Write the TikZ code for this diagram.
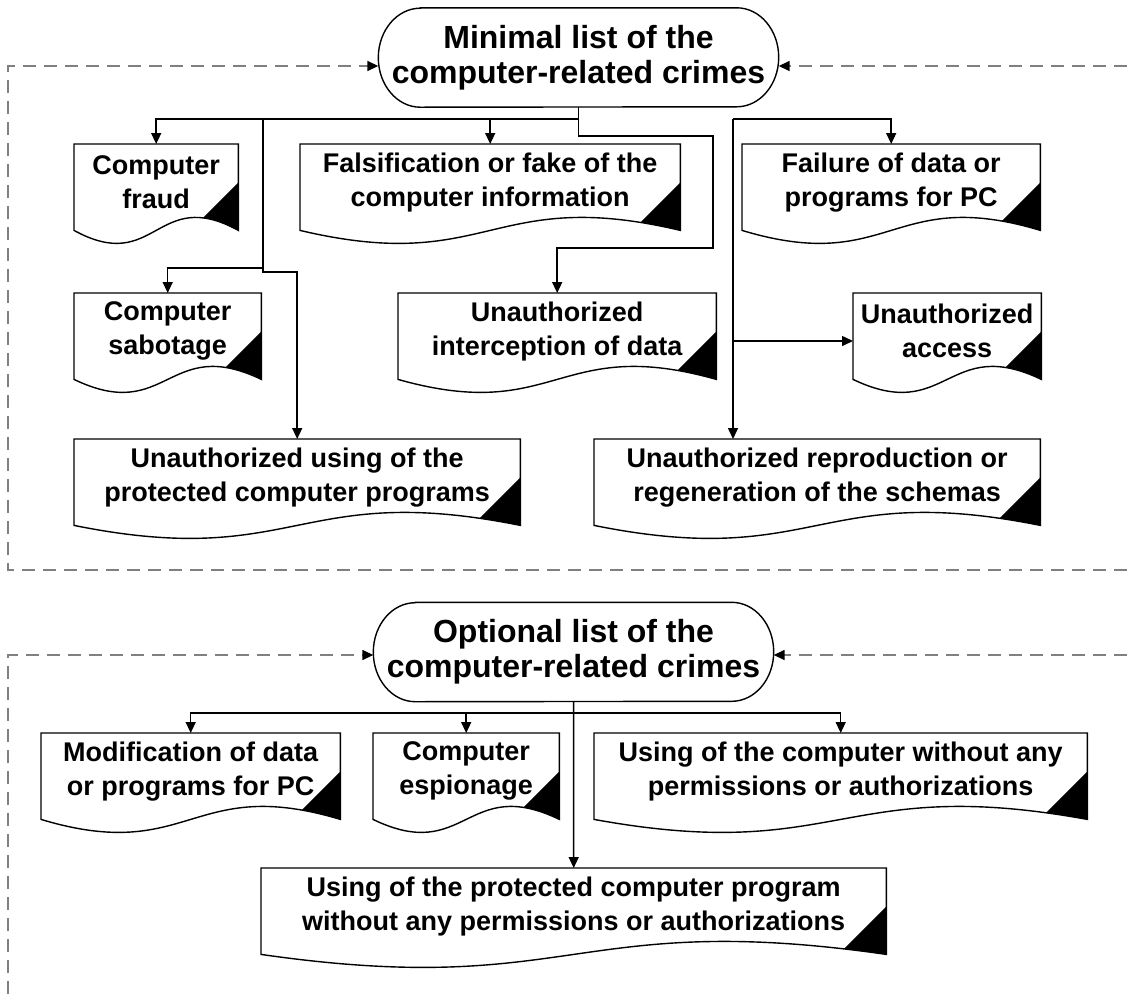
\documentclass[tikz,border=0pt]{standalone}
\usepackage{fontspec}
\setmainfont{Liberation Sans}
\usetikzlibrary{arrows.meta,calc}

\begin{document}
\begin{tikzpicture}[x=1pt,y=-1pt,
   outline/.style={draw=black,line width=1.4pt},
   link/.style={line width=1.5pt,-{Triangle[length=11pt,width=10pt]}},
   dashframe/.style={draw=gray,line width=1.6pt,dash pattern=on 13pt off 8pt,
      -{Triangle[length=11pt,width=10pt,black]}},
   terminal/.style={minimum width=400pt,minimum height=99pt,inner sep=0pt,
      align=center,font=\bfseries\fontsize{32}{35}\selectfont},
   doc/.style={anchor=north west,minimum width=#1pt,minimum height=76pt,
      inner sep=0pt,align=center,font=\bfseries\fontsize{27}{34}\selectfont}]
\useasboundingbox (0,0) rectangle (1127,994);

% minimal list
\node[terminal] (minlist) at (578.5,57.5) {Minimal list of the\\computer-related crimes};
\node[doc=164] (fraud) at (74,144) {Computer\\fraud};
\node[doc=380] (fals) at (300,144) {Falsification or fake of the\\computer information};
\node[doc=298] (fail) at (742,144) {Failure of data or\\programs for PC};
\node[doc=187] (sab) at (74,293) {Computer\\sabotage};
\node[doc=318] (icpt) at (398,293) {Unauthorized\\interception of data};
\node[doc=188] (acc) at (853,293) {Unauthorized\\access};
\node[doc=446] (usep) at (74,439) {Unauthorized using of the\\protected computer programs};
\node[doc=446] (repro) at (594,439) {Unauthorized reproduction or\\regeneration of the schemas};

% optional list
\node[terminal] (optlist) at (573.5,652) {Optional list of the\\computer-related crimes};
\node[doc=299] (modif) at (41,733) {Modification of data\\or programs for PC};
\node[doc=186] (esp) at (373,733) {Computer\\espionage};
\node[doc=493] (usec) at (594,733) {Using of the computer without any\\permissions or authorizations};
\node[doc=625] (prot) at (261,868) {Using of the protected computer program\\without any permissions or authorizations};

% shapes
\foreach \t in {minlist,optlist}
  \draw[outline] ([xshift=42pt]\t.north west) -- ([xshift=-42pt]\t.north east)
    arc[start angle=90,end angle=-90,x radius=42pt,y radius=49.5pt]
    -- ([xshift=42pt]\t.south west)
    arc[start angle=270,end angle=90,x radius=42pt,y radius=49.5pt] -- cycle;
\foreach \n in {fraud,fals,fail,sab,icpt,acc,usep,repro,modif,esp,usec,prot} {
  \begin{scope}[line width=1.4pt]
    \draw[clip] (\n.north west) -- (\n.north east) -- ($(\n.south east)+(0,10)$)
      .. controls ($(\n.south)+(0,-35)$) and ($(\n.south)+(0,55)$) .. ($(\n.south west)+(0,10)$) -- cycle;
    \fill ($(\n.south east)+(0,-38)$) -- ++(-90,90) -- ++(100,0) -- cycle;
  \end{scope}
}

% connectors
\coordinate (j1) at (578.5,119);
\coordinate (j2) at (263,119);
\coordinate (j3) at (733,119);
\coordinate (j4) at (733,341);
\coordinate (k1) at (573.5,713);
\draw[link] (minlist.south) -- (j1) -| (fraud.north);
\draw[link] (j1) -| (fals.north);
\draw[link] (j2) -- ++(0,149) -| (sab.north);
\draw[link] (j2) -- ++(0,153) -| (usep.north);
\draw[link] (minlist.south) -- ++(0,29) -- ++(134.5,0) -- ++(0,112) -| (icpt.north);
\draw[link] (j3) -| (fail.north);
\draw[link] (j3) -- (j3 |- repro.north);
\draw[link] (j4) -- (j4 -| acc.west);
\draw[link] (optlist.south) -- (prot.north);
\draw[link] (k1) -| (modif.north);
\draw[link] (k1) -| (esp.north);
\draw[link] (k1) -| (usec.north);

% dashed frames
\coordinate (f1) at (8,66);
\coordinate (f1b) at (8,570);
\coordinate (f1e) at (1127,570);
\coordinate (f1r) at (1127,66);
\coordinate (f2) at (8,655);
\coordinate (f2b) at (8,994);
\coordinate (f2r) at (1127,655);
\draw[dashframe] (f1e) -- (f1b) -- (f1) -- (f1 -| minlist.west);
\draw[dashframe] (f1r) -- (f1r -| minlist.east);
\draw[dashframe] (f2b) -- (f2) -- (f2 -| optlist.west);
\draw[dashframe] (f2r) -- (f2r -| optlist.east);
\end{tikzpicture}
\end{document}
